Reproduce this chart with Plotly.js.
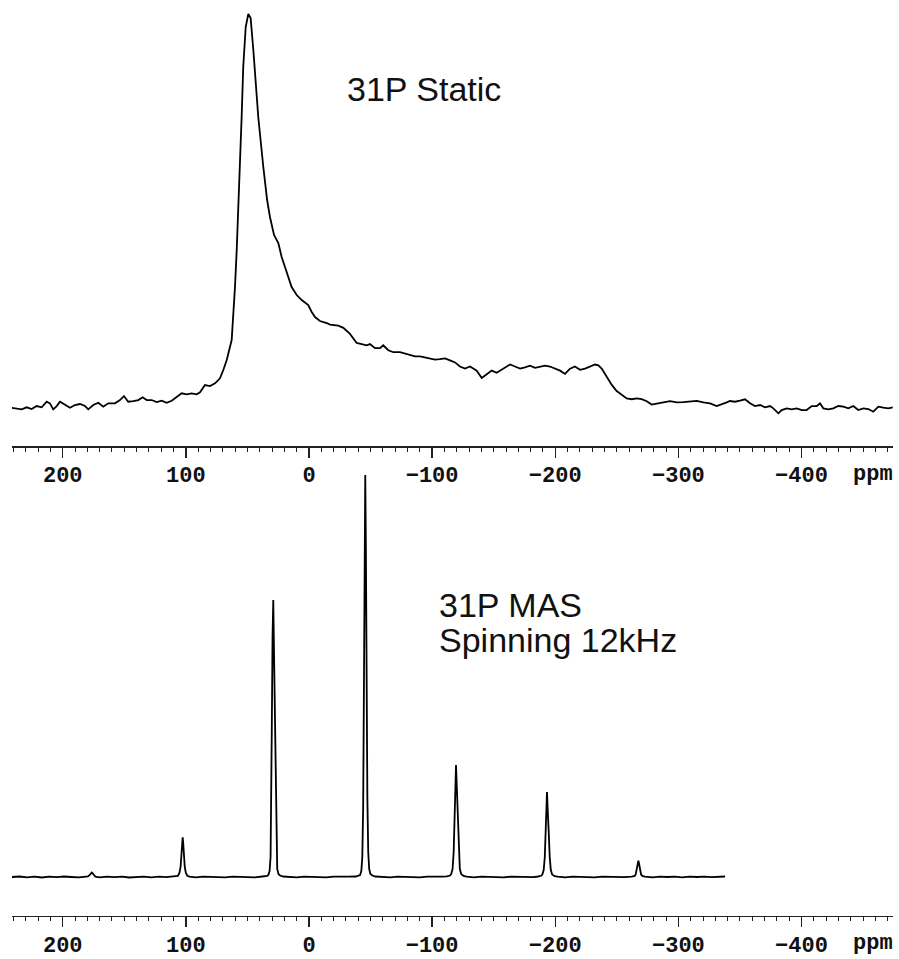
<!DOCTYPE html>
<html><head><meta charset="utf-8">
<script src="https://cdn.plot.ly/plotly-3.0.1.min.js"></script>
<style>html,body{margin:0;padding:0;background:#fff}</style>
</head><body><div id="chart" style="width:899px;height:959px"></div>
<script>
// 31P static spectrum (ppm, arbitrary intensity)
const staticPpm = [
 241.5, 237.4, 233.3, 229.3, 225.2, 221.2, 217.1, 213.0, 210.4, 207.7,
 204.9, 202.2, 198.2, 194.1, 190.1, 186.0, 181.9, 179.3, 175.2, 171.1,
 167.1, 163.0, 157.6, 153.5, 150.3, 146.8, 142.7, 138.6, 135.1, 131.8,
 127.8, 123.7, 119.6, 115.6, 111.5, 107.5, 103.4, 99.3, 95.3, 91.2,
 88.5, 84.5, 80.4, 76.3, 72.3, 69.6, 66.8, 62.8, 61.5, 60.1,
 58.7, 57.4, 56.0, 54.7, 53.4, 51.4, 49.3, 47.4, 45.2, 41.2,
 37.1, 34.0, 31.7, 28.4, 24.9, 22.2, 19.5, 16.8, 14.1, 10.0,
 5.9, 0.6, -2.2, -4.9, -8.9, -14.4, -17.1, -23.8, -27.9, -33.3,
 -38.7, -42.8, -46.9, -49.5, -53.6, -57.7, -60.3, -64.4, -68.5, -73.9,
 -78.0, -82.0, -86.1, -90.2, -94.2, -98.3, -102.3, -106.4, -110.5, -114.5,
 -118.6, -122.6, -126.7, -130.8, -136.2, -140.3, -144.3, -148.4, -152.4, -156.5,
 -160.6, -163.3, -167.3, -171.4, -175.4, -179.5, -183.6, -187.6, -191.7, -195.7,
 -199.8, -203.9, -207.9, -212.0, -216.0, -220.1, -224.2, -228.2, -232.3, -235.0,
 -237.7, -241.8, -245.9, -249.9, -254.0, -258.0, -262.1, -266.2, -270.2, -274.3,
 -278.3, -282.4, -287.8, -293.2, -298.6, -304.0, -309.4, -314.9, -320.3, -325.7,
 -331.1, -335.2, -339.3, -341.9, -346.0, -350.1, -354.1, -358.2, -362.2, -366.3,
 -370.4, -374.4, -377.1, -381.2, -383.9, -388.0, -392.0, -396.1, -400.2, -404.2,
 -408.3, -412.4, -415.0, -417.7, -421.8, -425.8, -429.9, -434.0, -438.0, -442.1,
 -446.1, -450.2, -454.3, -458.3, -462.4, -466.4, -470.5, -474.1
];
const staticInt = [
 -0.7, -1.3, -2.3, -0.3, -2, 1, -0.3, 5.3, 3.7, -2.3,
 1, 5.3, 2, -0.7, 2, 3, 1, -2.3, 2, 4.3,
 0.3, 3.7, 3.7, 7, 11, 5.3, 6, 7, 9.7, 7,
 7, 5, 6.3, 4.3, 6.3, 10.3, 13.7, 12.7, 13.7, 12.7,
 14.7, 22, 21, 23.7, 28.7, 37, 47, 67, 90, 120,
 157, 197, 247, 290, 340, 380, 393, 389, 357, 290,
 240, 207, 190, 172, 164, 150, 140, 130, 120, 112,
 107, 102, 95, 90, 86, 84, 82.5, 81.3, 79.2, 73.1,
 64.1, 62.9, 61.7, 62.9, 58.8, 58.8, 61.7, 56.8, 54.8, 54.8,
 53.5, 52.7, 50.7, 50.7, 49.4, 48.6, 47.4, 47.8, 48.6, 46.6,
 44.6, 40.5, 38.4, 40.5, 36.4, 29, 32.3, 36.4, 34.3, 37.2,
 40.5, 42.5, 40.5, 38.4, 39.7, 41.3, 39.2, 40.5, 41.3, 40.5,
 38.4, 36.4, 33.1, 38.4, 40.5, 37.2, 38.4, 40.5, 42.5, 41.7,
 38.4, 30.3, 22.1, 16, 11.9, 8.6, 7.8, 8.6, 7.8, 5.8,
 2.5, 3.7, 4.6, 5.8, 4.6, 5, 5.8, 6.2, 4.6, 3.7,
 0.9, 2.5, 4.6, 6, 5.3, 6.3, 7.7, 3.7, 1, 2,
 -0.3, 1, -1.3, -6.3, -3, -1.3, -2.3, -1.3, -3, -3,
 1, 1, 3.7, -1.3, -2.3, -1.3, 1, 0.3, -1.3, 1,
 -3, -1.3, -2, -4.7, 0.3, -0.7, -1.3, -0.3
];

// 31P MAS spectrum, 12 kHz spinning (ppm, arbitrary intensity)
const masPpm = [
 241.2, 235, 229, 223, 217, 211, 205, 199, 193, 187, 181,
 179.5, 178, 177, 176.5, 176, 175, 173.5,
 170, 164, 158, 152, 146, 140, 134, 128, 122, 116, 110, 107,
 106.5, 105.2, 104.3, 103.6, 103.0, 102.6, 102.2, 101.6, 100.9, 100, 98.8, 97,
 92, 86, 80, 74, 68, 62, 56, 50, 44, 38, 34,
 33, 32, 31.2, 30.6, 30.2, 29.6, 29.0, 28.6, 28.2, 27.7, 27.2, 26.6, 25.8, 24.8, 23.5, 21,
 16, 10, 4, -2, -8, -14, -20, -26, -32, -38, -40.5,
 -41.5, -42.5, -43.3, -44.0, -44.6, -45.2, -45.7, -46.2, -46.8, -47.4, -48.1, -48.9, -49.9, -51.5, -54,
 -60, -66, -72, -78, -84, -90, -96, -102, -108, -112, -114.5,
 -115.5, -116.6, -117.5, -118.3, -118.9, -119.4, -119.9, -120.3, -120.9, -121.6, -122.5, -123.6, -125.5, -128,
 -134, -140, -146, -152, -158, -164, -170, -176, -182, -186, -188.5,
 -189.5, -190.6, -191.5, -192.3, -192.9, -193.3, -193.7, -194.2, -194.8, -195.5, -196.4, -197.5, -199.5, -202,
 -208, -214, -220, -226, -232, -238, -244, -250, -256, -262, -264.5,
 -265.3, -266.2, -266.9, -267.5, -268.1, -268.8, -269.7, -271, -273,
 -279, -285, -291, -297, -303, -309, -315, -321, -327, -333, -337.9
];
const masInt = [
 0, 0.5, -0.3, 0.4, -0.5, 0.3, -0.2, 0.5, 0, -0.4, 0.3,
 0.5, 2, 4, 4.5, 4, 2, 0.4,
 -0.3, 0.4, -0.2, 0.3, -0.5, 0.2, 0.4, -0.3, 0.3, -0.2, 0.3, 0.6,
 1.2, 4, 10, 22, 35, 39.7, 35, 22, 10, 4, 1.2, 0.4,
 -0.3, 0.3, 0, 0.4, -0.3, 0.3, 0, 0.4, -0.3, 0.5, 1,
 2, 6, 20, 70, 150, 240, 277, 240, 205, 150, 80, 25, 8, 3, 1.5, 0.5,
 0.3, -0.3, 0.4, 0, 0.3, -0.3, 0.4, 0, 0.3, 0.5, 1.2,
 2, 6, 20, 70, 180, 330, 402, 330, 180, 80, 25, 8, 3, 1.5, 0.5,
 0.2, -0.3, 0.4, 0, 0.3, -0.4, 0.3, 0, 0.4, 0.6, 1.5,
 3, 8, 25, 60, 95, 112, 95, 80, 55, 25, 8, 3, 1, 0.3,
 -0.3, 0.3, 0, 0.4, -0.3, 0.3, 0, 0.4, -0.2, 0.5, 1.2,
 2.5, 7, 20, 45, 72, 85, 72, 62, 42, 20, 7, 2.5, 0.8, 0.3,
 -0.3, 0.3, 0, 0.4, -0.3, 0.3, 0, 0.4, -0.2, 0.4, 1,
 2.5, 7, 13, 16.3, 13, 7, 2.5, 0.8, 0.3,
 -0.3, 0.3, 0, 0.4, -0.3, 0.3, 0, 0.4, -0.2, 0.3, 0.5
];

const tickFont = {family: 'Liberation Mono, Courier New, monospace', size: 22, color: '#111', weight: 700};
const textFont = {family: 'Liberation Sans, Arial, sans-serif', size: 34, color: '#111'};

function xAxis(anchor) {
  return {
    anchor: anchor, domain: [0, 1], range: [241.2, -474.3],
    showline: true, linecolor: '#222', linewidth: 1.5,
    showgrid: false, zeroline: false,
    ticks: 'outside', ticklen: 10, tickwidth: 1.5, tickcolor: '#222',
    ticklabelstandoff: -2,
    tick0: 0, dtick: 100, tickfont: tickFont,
    minor: {dtick: 10, ticks: 'outside', ticklen: 4, tickwidth: 1, tickcolor: '#222', showgrid: false}
  };
}

const traces = [
  {x: staticPpm, y: staticInt, xaxis: 'x', yaxis: 'y', type: 'scatter', mode: 'lines',
   line: {color: '#000', width: 1.8}},
  {x: masPpm, y: masInt, xaxis: 'x2', yaxis: 'y2', type: 'scatter', mode: 'lines',
   line: {color: '#000', width: 1.8}}
];

const layout = {
  width: 899, height: 959,
  margin: {l: 12, r: 6, t: 0, b: 0},
  paper_bgcolor: '#fff', plot_bgcolor: '#fff',
  showlegend: false,
  xaxis: xAxis('y'),
  yaxis: {domain: [0.5349, 1], range: [-39, 407], visible: false},
  xaxis2: xAxis('y2'),
  yaxis2: {domain: [0.04484, 0.5245], range: [-39, 421], visible: false},
  annotations: [
    {text: '31P Static', xref: 'paper', yref: 'paper', x: 0.378, y: 0.907,
     xanchor: 'left', yanchor: 'middle', showarrow: false, font: textFont},
    {text: '31P MAS', xref: 'paper', yref: 'paper', x: 0.4824, y: 0.3691,
     xanchor: 'left', yanchor: 'middle', showarrow: false, font: textFont},
    {text: 'Spinning 12kHz', xref: 'paper', yref: 'paper', x: 0.4824, y: 0.3326,
     xanchor: 'left', yanchor: 'middle', showarrow: false, font: textFont},
    {text: 'ppm', xref: 'paper', yref: 'paper', x: 0.977, y: 0.5056,
     xanchor: 'center', yanchor: 'middle', showarrow: false, font: tickFont},
    {text: 'ppm', xref: 'paper', yref: 'paper', x: 0.977, y: 0.0157,
     xanchor: 'center', yanchor: 'middle', showarrow: false, font: tickFont}
  ]
};

Plotly.newPlot('chart', traces, layout, {staticPlot: true});
</script></body></html>
